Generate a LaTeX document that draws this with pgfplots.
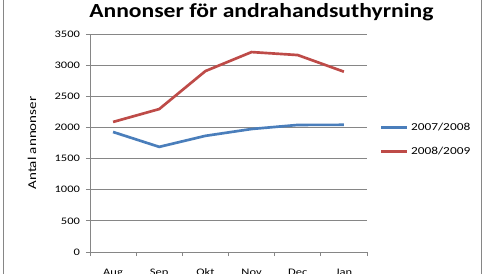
\documentclass[border=0pt]{standalone}
\usepackage{pgfplots}
\pgfplotsset{compat=1.18}
\usepackage{fontspec}
\setmainfont{Carlito}[FakeStretch=1.25]
\newfontfamily\titlefont{Carlito}[FakeStretch=1.18]
\definecolor{xlblue}{HTML}{4A7EBB}
\definecolor{xlred}{HTML}{BE4B48}
\definecolor{xlgray}{HTML}{868686}
\begin{document}
\begin{tikzpicture}
\begin{axis}[
  at={(67.5pt,15.75pt)}, anchor=south west,
  scale only axis, width=207.75pt, height=163.5pt,
  xmin=-0.5, xmax=5.5, ymin=0, ymax=3500,
  ytick={0,500,...,3500},
  xtick={0,...,5}, xticklabels={Aug,Sep,Okt,Nov,Dec,Jan},
  minor xtick={-0.5,0.5,...,5.5},
  axis x line*=bottom, axis y line*=left,
  axis line style={xlgray, line width=0.6pt, -},
  ymajorgrids, grid style={xlgray, line width=0.6pt},
  major x tick style={draw=none},
  minor x tick style={xlgray, line width=0.6pt},
  major y tick style={xlgray, line width=0.6pt},
  tick align=outside, major tick length=3pt, minor tick length=3pt,
  /pgf/number format/assume math mode=true,
  /pgf/number format/1000 sep={},
  tick label style={font=\fontsize{7.5pt}{9pt}\selectfont, text=black},
  yticklabel style={xshift=-1pt},
  xticklabel style={yshift=-6pt},
  legend style={at={(rel axis cs:1.045,0.607)}, anchor=north west, draw=none, fill=none,
    font=\fontsize{8pt}{9.6pt}\selectfont, row sep=7pt, inner sep=0pt,
    legend cell align=left},
  legend image code/.code={\draw[#1] (0pt,0pt) -- (19.5pt,0pt);},
  clip=false,
]
\addplot[xlblue, line width=2pt] coordinates {(0,1927) (1,1688) (2,1865) (3,1975) (4,2040) (5,2042)};
\addlegendentry{2007/2008}
\addplot[xlred, line width=2pt] coordinates {(0,2088) (1,2295) (2,2905) (3,3210) (4,3162) (5,2895)};
\addlegendentry{2008/2009}
\end{axis}
\node[rotate=90, font=\fontsize{9pt}{11pt}\selectfont] at (24pt,97.5pt) {Antal annonser};
\node[font=\titlefont\bfseries\fontsize{15pt}{18pt}\selectfont, anchor=base] at (196pt,192pt) {Annonser för andrahandsuthyrning};
\draw[xlgray, line width=0.8pt] (2.6pt,-5pt) -- (2.6pt,210pt);
\draw[xlgray, line width=0.8pt] (360.8pt,-5pt) -- (360.8pt,210pt);
\pgfresetboundingbox
\path[use as bounding box] (0,0) rectangle (364.5pt,204.75pt);
\end{tikzpicture}
\end{document}
